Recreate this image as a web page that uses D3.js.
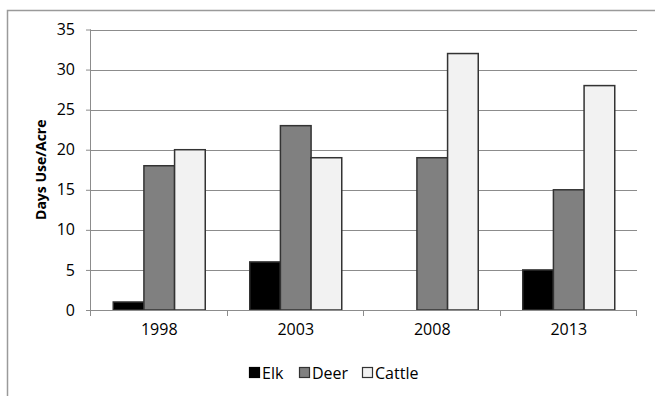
<!DOCTYPE html>
<html>
<head>
<meta charset="utf-8">
<script src="https://cdn.jsdelivr.net/npm/d3@7"></script>
<style>
  html, body { margin: 0; padding: 0; background: #fff; }
  svg { display: block; }
  text { font-family: "Open Sans", Lato, sans-serif; fill: #000; }
</style>
</head>
<body>
<svg id="chart" width="655" height="396"></svg>
<script>
// Grazing use by year and animal
const years = ["1998", "2003", "2008", "2013"];
const seriesNames = ["Elk", "Deer", "Cattle"];
const elk = [1, 6, 0, 5];
const deer = [18, 23, 19, 15];
const cattle = [20, 19, 32, 28];
const yTicks = [0, 5, 10, 15, 20, 25, 30, 35];
const fills = ["#000000", "#808080", "#f2f2f2"];

const seriesValues = [elk, deer, cattle];
const rows = years.map((y, i) => ({
  year: y,
  vals: seriesNames.map((s, k) => ({ key: s, value: seriesValues[k][i] }))
}));

const svg = d3.select("#chart");
const FONT = "'Open Sans', Lato, sans-serif";

// outer chart frame (only its top and left edges fall inside the view)
svg.append("rect")
  .attr("x", 7.5).attr("y", 10.5)
  .attr("width", 700).attr("height", 400)
  .attr("fill", "none").attr("stroke", "#9a9a9a").attr("stroke-width", 1.5);

const plot = { left: 91, right: 637, top: 29.5, bottom: 310 };

const x0 = d3.scaleBand().domain(years).range([plot.left, plot.right]).padding(0);
const bw = x0.bandwidth();
const gap = bw * 0.163;
const x1 = d3.scaleBand().domain(seriesNames).range([gap, bw - gap]).padding(0);
const y = d3.scaleLinear().domain([0, 35]).range([plot.bottom, plot.top]);

// horizontal gridlines
svg.append("g")
  .selectAll("line")
  .data(yTicks.filter(t => t > 0))
  .join("line")
  .attr("x1", plot.left).attr("x2", plot.right)
  .attr("y1", d => Math.round(y(d)) + 0.5).attr("y2", d => Math.round(y(d)) + 0.5)
  .attr("stroke", "#8c8c8c").attr("stroke-width", 1);

// y axis
const yAxis = d3.axisLeft(y).tickValues(yTicks).tickSize(5).tickPadding(11);
const gy = svg.append("g").attr("transform", `translate(${plot.left},0)`).call(yAxis);
gy.select(".domain").attr("stroke", "#8c8c8c").attr("d", `M-0.5,${plot.top}V${plot.bottom}`);
gy.selectAll(".tick line").attr("stroke", "#8c8c8c");
gy.selectAll(".tick text").style("font-size", "16px").style("font-family", FONT).attr("fill", "#000");

// bars
const groups = svg.append("g")
  .selectAll("g")
  .data(rows)
  .join("g")
  .attr("transform", d => `translate(${x0(d.year)},0)`);

groups.selectAll("rect")
  .data(d => d.vals.filter(v => v.value > 0))
  .join("rect")
  .attr("x", d => x1(d.key))
  .attr("y", d => y(d.value))
  .attr("width", x1.bandwidth())
  .attr("height", d => y(0) - y(d.value))
  .attr("fill", d => fills[seriesNames.indexOf(d.key)])
  .attr("stroke", "#333")
  .attr("stroke-width", 1.5);

// x axis
const xAxis = d3.axisBottom(x0).tickSize(0).tickPadding(14);
const gx = svg.append("g").attr("transform", `translate(0,${plot.bottom})`).call(xAxis);
gx.select(".domain").attr("stroke", "#8c8c8c").attr("d", `M${plot.left},0.5H${plot.right}`);
gx.selectAll(".tick text").style("font-size", "16px").style("font-family", FONT).attr("fill", "#000");
// category boundary ticks
gx.append("g")
  .selectAll("line")
  .data(years.map(yv => x0(yv)).concat([plot.right]))
  .join("line")
  .attr("x1", d => Math.round(d) - 0.5).attr("x2", d => Math.round(d) - 0.5)
  .attr("y1", 0).attr("y2", 6)
  .attr("stroke", "#8c8c8c");

// y axis title
svg.append("text")
  .attr("transform", `translate(46,${(plot.top + plot.bottom) / 2}) rotate(-90)`)
  .attr("text-anchor", "middle")
  .style("font-size", "14px")
  .style("font-weight", "bold")
  .text("Days Use/Acre");

// legend
const legendX = [249, 299, 362];
const legend = svg.append("g")
  .selectAll("g")
  .data(seriesNames)
  .join("g")
  .attr("transform", (d, i) => `translate(${legendX[i]},367)`);
legend.append("rect")
  .attr("x", 0.5).attr("y", 0.5)
  .attr("width", 10).attr("height", 10)
  .attr("fill", (d, i) => fills[i])
  .attr("stroke", (d, i) => i === 0 ? "#000" : "#333")
  .attr("stroke-width", 1.2);
legend.append("text")
  .attr("x", 13).attr("y", 6)
  .attr("dy", "0.35em")
  .style("font-size", "16px")
  .text(d => d);
</script>
</body>
</html>
